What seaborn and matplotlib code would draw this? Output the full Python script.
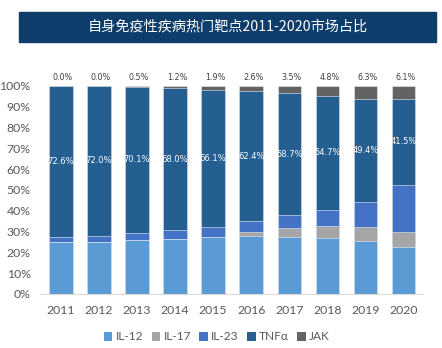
import matplotlib
matplotlib.use("Agg")
import matplotlib.pyplot as plt
from matplotlib.patches import Rectangle, Patch
import seaborn as sns
import pandas as pd
import numpy as np

years = ["2011", "2012", "2013", "2014", "2015", "2016", "2017", "2018", "2019", "2020"]
il12 = [25.1, 25.1, 26.0, 26.4, 27.3, 27.8, 27.5, 26.8, 25.4, 22.7]
il17 = [0.0, 0.0, 0.0, 0.0, 0.0, 2.0, 4.1, 5.9, 6.8, 7.0]
il23 = [2.3, 2.9, 3.4, 4.4, 4.7, 5.2, 6.2, 7.8, 12.1, 22.7]
tnfa = [72.6, 72.0, 70.1, 68.0, 66.1, 62.4, 58.7, 54.7, 49.4, 41.5]
jak = [0.0, 0.0, 0.5, 1.2, 1.9, 2.6, 3.5, 4.8, 6.3, 6.1]
series_names = ["IL-12", "IL-17", "IL-23", "TNFα", "JAK"]
colors = ["#5B9BD5", "#A5A5A5", "#4472C4", "#255E91", "#636363"]

sns.set_theme(style="white")
plt.rcParams['font.family'] = ['Lato', 'Noto Sans CJK SC', 'DejaVu Sans']

df = pd.DataFrame({"year": years, "IL-12": il12, "IL-17": il17, "IL-23": il23,
                   "TNFα": tnfa, "JAK": jak})
cum = df[series_names].cumsum(axis=1)
cum = cum.div(cum["JAK"], axis=0) * 100  # normalise to 100%

fig = plt.figure(figsize=(4.42, 3.48), dpi=100)
ax = fig.add_axes([41/442, 1-294/348, (423-41)/442, (294-86)/348])

for name, col in reversed(list(zip(series_names, colors))):
    sns.barplot(x=df["year"], y=cum[name], color=col, ax=ax, width=0.62,
                saturation=1, edgecolor="#E8EEF5", linewidth=0.4)

ax.set_ylim(0, 100)
ax.set_xlim(-0.52, 9.51)
ax.set_xlabel("")
ax.set_ylabel("")
ax.set_yticks(np.arange(0, 101, 10))
ax.set_yticklabels([f"{v}%" for v in range(0, 101, 10)])
ax.tick_params(axis='both', labelsize=8.8, colors="#595959", length=0)
ax.tick_params(axis='x', pad=8)
ax.tick_params(axis='y', pad=7.5)
for s in ["top", "right", "left"]:
    ax.spines[s].set_visible(False)
ax.spines["bottom"].set_color("#D9D9D9")
ax.spines["bottom"].set_linewidth(0.8)

# value labels
for i in range(len(years)):
    lo = cum["IL-23"].iloc[i]
    hi = cum["TNFα"].iloc[i]
    ax.text(i, (lo + hi) / 2, f"{tnfa[i]:.1f}%", ha="center", va="center",
            color="white", fontsize=6, family="DejaVu Sans")
    ax.text(i + 0.05, 104.3, f"{jak[i]:.1f}%", ha="center", va="center",
            color="#404040", fontsize=5.8, clip_on=False, family="DejaVu Sans")

# title banner
fig.patches.append(Rectangle((19/442, 1-42/348), (436-19)/442, 30/348,
                             transform=fig.transFigure, color="#0E3D6B", zorder=0))
fig.text((19+436)/2/442, 1-27/348, "自身免疫性疾病热门靶点2011-2020市场占比",
         ha="center", va="center", color="white", fontsize=10.2,
         family=['Noto Sans CJK SC', 'DejaVu Sans'])

handles = [Patch(facecolor=c, edgecolor="none") for c in colors]
fig.legend(handles, series_names, loc="center", bbox_to_anchor=(217/442, 1-337/348),
           ncol=5, frameon=False, fontsize=8.6, handlelength=0.7, handleheight=0.7,
           handletextpad=0.3, columnspacing=0.7, labelcolor="#595959")

fig.savefig("out.png", dpi=100)
